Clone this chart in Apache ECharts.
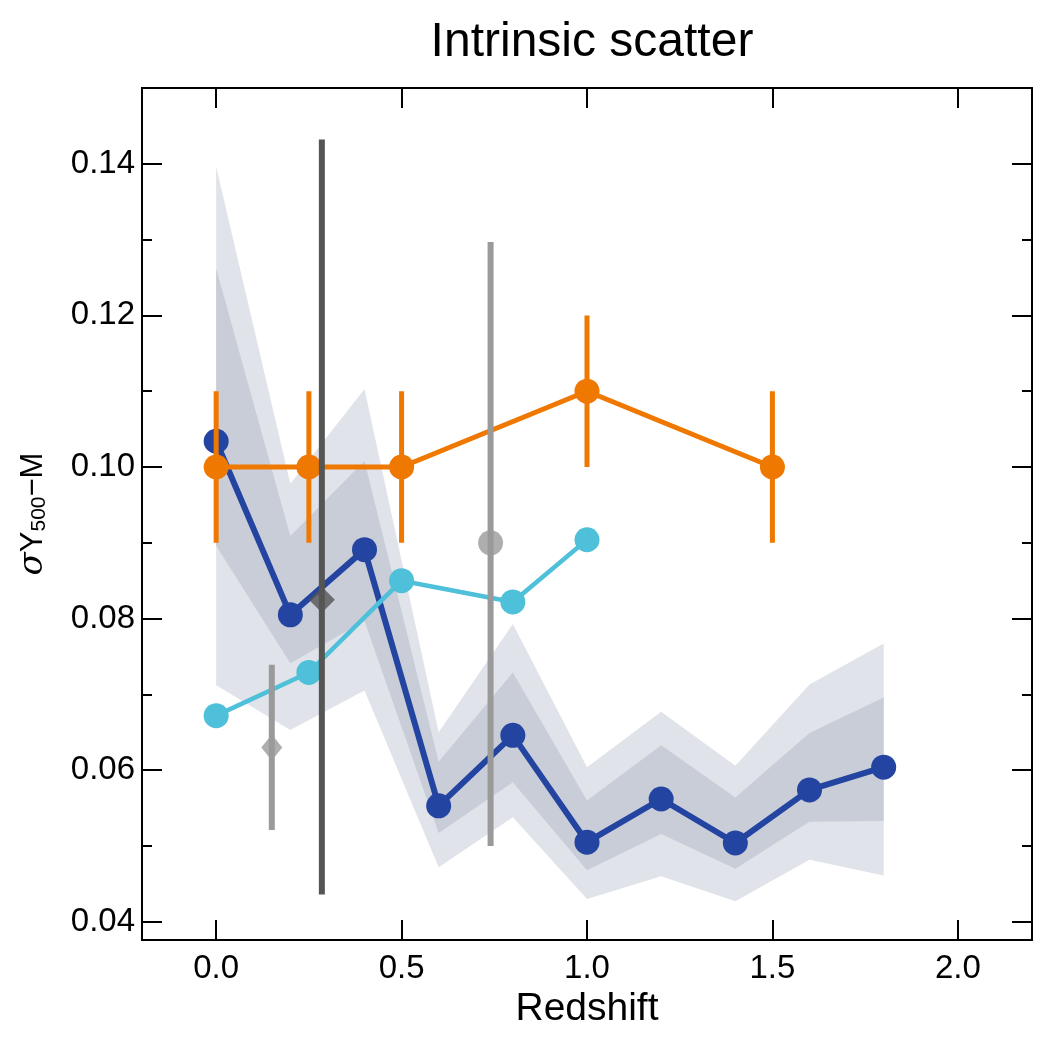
<!DOCTYPE html>
<html>
<head>
<meta charset="utf-8">
<script src="https://cdn.jsdelivr.net/npm/echarts@6/dist/echarts.min.js"></script>
<style>html,body{margin:0;padding:0;background:#fff}#c{width:1050px;height:1050px}</style>
</head>
<body>
<div id="c"></div>
<script>
// ---- data ----
const xTicks = [0.0, 0.5, 1.0, 1.5, 2.0];
const yTicks = [0.04, 0.06, 0.08, 0.10, 0.12, 0.14];
const yMinorTicks = [0.05, 0.07, 0.09, 0.11, 0.13];

const simZ      = [0.0, 0.2, 0.4, 0.6, 0.8, 1.0, 1.2, 1.4, 1.6, 1.8];
const simScatter= [0.1034, 0.0805, 0.0891, 0.0553, 0.0646, 0.0505, 0.0562, 0.0504, 0.0574, 0.0604];
const simOuterLo= [0.0712, 0.0653, 0.0705, 0.0472, 0.0538, 0.0430, 0.0460, 0.0427, 0.0482, 0.0461];
const simOuterHi= [0.1396, 0.0978, 0.1103, 0.0650, 0.0793, 0.0604, 0.0677, 0.0606, 0.0713, 0.0767];
const simInnerLo= [0.0896, 0.0741, 0.0797, 0.0517, 0.0584, 0.0468, 0.0516, 0.0470, 0.0532, 0.0533];
const simInnerHi= [0.1262, 0.0909, 0.1008, 0.0611, 0.0729, 0.0560, 0.0633, 0.0564, 0.0649, 0.0696];

const orangeZ   = [0.0, 0.25, 0.5, 1.0, 1.5];
const orangeVal = [0.10, 0.10, 0.10, 0.11, 0.10];
const orangeLo  = [0.09, 0.09, 0.09, 0.10, 0.09];
const orangeHi  = [0.11, 0.11, 0.11, 0.12, 0.11];

const cyanZ     = [0.0, 0.25, 0.5, 0.8, 1.0];
const cyanVal   = [0.0672, 0.0729, 0.0850, 0.0822, 0.0904];

const grayDiaZ = [0.15];  const grayDiaVal = [0.0630]; const grayDiaLo = [0.0521]; const grayDiaHi = [0.0739];
const darkDiaZ = [0.285]; const darkDiaVal = [0.0825]; const darkDiaLo = [0.0436]; const darkDiaHi = [0.1432];
const grayCirZ = [0.74];  const grayCirVal = [0.0900]; const grayCirLo = [0.0500]; const grayCirHi = [0.1297];

// ---- styling ----
const BLUE = '#2344a0', CYAN = '#4fc0d9', ORANGE = '#ef7800', GRAY = '#9a9a9a', DARK = '#555555';
const OUTER = '#e0e3ea', INNER = '#c9cdd8';
const FONT = 'Liberation Sans';
const YMIN = 0.0376, YMAX = 0.15;

function bandSeries(xs, lo, hi, color, z) {
  return {
    type: 'custom', z: z, silent: true,
    data: [[xs[0], lo[0]]],
    encode: {x: 0, y: 1},
    renderItem: function (params, api) {
      const pts = [];
      for (let i = 0; i < xs.length; i++) pts.push(api.coord([xs[i], hi[i]]));
      for (let i = xs.length - 1; i >= 0; i--) pts.push(api.coord([xs[i], lo[i]]));
      return {type: 'polygon', shape: {points: pts}, style: {fill: color}};
    }
  };
}
function errSeries(xs, lo, hi, color, width, z) {
  return {
    type: 'custom', z: z, silent: true,
    data: xs.map((x, i) => [x, lo[i], hi[i]]),
    encode: {x: 0, y: [1, 2]},
    renderItem: function (params, api) {
      const a = api.coord([api.value(0), api.value(1)]);
      const b = api.coord([api.value(0), api.value(2)]);
      return {type: 'line', shape: {x1: a[0], y1: a[1], x2: b[0], y2: b[1]},
              style: {stroke: color, lineWidth: width}};
    }
  };
}
function pairs(xs, ys) { return xs.map((x, i) => [x, ys[i]]); }

const axisLineStyle = {color: '#000', width: 2};
function yAxisDef(pos, ticks, len, showLabel, name) {
  const ax = {
    type: 'value', min: YMIN, max: YMAX, position: pos, offset: 0,
    splitLine: {show: false},
    axisLine: {show: true, onZero: false, lineStyle: axisLineStyle},
    axisTick: {show: true, inside: true, length: len, lineStyle: {color: '#000', width: 2}, customValues: ticks},
    axisLabel: {show: showLabel, customValues: ticks, formatter: v => v.toFixed(2),
                fontFamily: FONT, fontSize: 33, color: '#000', margin: 7}
  };
  if (name) {
    ax.name = '{s|σ}{y|Y}{sub|500}{y|−M}';
    ax.nameLocation = 'middle';
    ax.nameRotate = 90;
    ax.nameGap = 92;
    ax.nameTextStyle = {
      color: '#000',
      rich: {
        s: {fontFamily: 'DejaVu Serif', fontStyle: 'italic', fontSize: 34, color: '#000'},
        y: {fontFamily: FONT, fontSize: 31, color: '#000'},
        sub: {fontFamily: FONT, fontSize: 21, color: '#000', verticalAlign: 'bottom'}
      }
    };
  }
  return ax;
}

const option = {
  animation: false,
  backgroundColor: '#fff',
  title: {
    text: 'Intrinsic scatter', left: 587, top: 14, textAlign: 'center',
    textStyle: {fontFamily: FONT, fontSize: 48, fontWeight: 'normal', color: '#000'}
  },
  grid: {left: 142, right: 18, top: 88, bottom: 110, containLabel: false},
  xAxis: [
    {
      type: 'value', min: -0.2, max: 2.2, position: 'bottom',
      splitLine: {show: false},
      axisLine: {show: true, onZero: false, lineStyle: axisLineStyle},
      axisTick: {show: true, inside: true, length: 20, lineStyle: {color: '#000', width: 2}, customValues: xTicks},
      axisLabel: {customValues: xTicks, formatter: v => v.toFixed(1), fontFamily: FONT, fontSize: 33, color: '#000', margin: 12},
      name: 'Redshift', nameLocation: 'middle', nameGap: 50,
      nameTextStyle: {fontFamily: FONT, fontSize: 39, color: '#000'}
    },
    {
      type: 'value', min: -0.2, max: 2.2, position: 'top',
      splitLine: {show: false},
      axisLine: {show: true, onZero: false, lineStyle: axisLineStyle},
      axisTick: {show: true, inside: true, length: 20, lineStyle: {color: '#000', width: 2}, customValues: xTicks},
      axisLabel: {show: false}
    }
  ],
  yAxis: [
    yAxisDef('left', yTicks, 20, true, true),
    yAxisDef('left', yMinorTicks, 10, false, false),
    yAxisDef('right', yTicks, 20, false, false),
    yAxisDef('right', yMinorTicks, 10, false, false)
  ],
  series: [
    bandSeries(simZ, simOuterLo, simOuterHi, OUTER, 1),
    bandSeries(simZ, simInnerLo, simInnerHi, INNER, 2),
    {
      type: 'line', z: 3, data: pairs(simZ, simScatter),
      symbol: 'circle', symbolSize: 25, showSymbol: true,
      lineStyle: {color: BLUE, width: 6}, itemStyle: {color: BLUE}
    },
    {
      type: 'line', z: 4, data: pairs(cyanZ, cyanVal),
      symbol: 'circle', symbolSize: 25,
      lineStyle: {color: CYAN, width: 4.5}, itemStyle: {color: CYAN}
    },
    errSeries(orangeZ, orangeLo, orangeHi, ORANGE, 5, 5),
    {
      type: 'line', z: 6, data: pairs(orangeZ, orangeVal),
      symbol: 'circle', symbolSize: 25,
      lineStyle: {color: ORANGE, width: 5}, itemStyle: {color: ORANGE}
    },
    errSeries(grayDiaZ, grayDiaLo, grayDiaHi, GRAY, 6, 7),
    {type: 'scatter', z: 8, data: pairs(grayDiaZ, grayDiaVal), symbol: 'diamond', symbolSize: [21, 26], itemStyle: {color: GRAY}},
    errSeries(darkDiaZ, darkDiaLo, darkDiaHi, DARK, 6, 7),
    {type: 'scatter', z: 8, data: pairs(darkDiaZ, darkDiaVal), symbol: 'diamond', symbolSize: [26, 26], itemStyle: {color: DARK}},
    errSeries(grayCirZ, grayCirLo, grayCirHi, GRAY, 6, 7),
    {type: 'scatter', z: 8, data: pairs(grayCirZ, grayCirVal), symbol: 'circle', symbolSize: 25, itemStyle: {color: GRAY}}
  ]
};

const chart = echarts.init(document.getElementById('c'), null, {renderer: 'canvas'});
chart.setOption(option);
</script>
</body>
</html>
